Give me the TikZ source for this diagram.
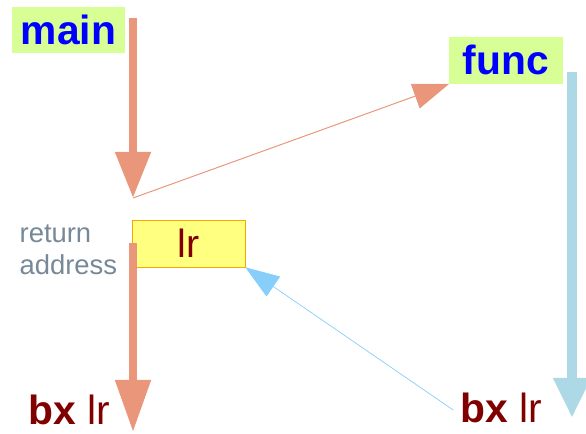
\documentclass[tikz,border=0pt]{standalone}
\usepackage{fontspec}
\setmainfont{Liberation Sans}
\usetikzlibrary{arrows.meta}
\definecolor{lblgreen}{RGB}{216,255,150}
\definecolor{regyellow}{RGB}{255,255,128}
\definecolor{regorange}{RGB}{255,165,0}
\definecolor{bxred}{RGB}{128,0,0}
\definecolor{slate}{RGB}{119,136,153}
\definecolor{salmon}{RGB}{233,150,122}
\definecolor{callblue}{RGB}{173,216,230}
\definecolor{retblue}{RGB}{135,206,250}

\begin{document}
\begin{tikzpicture}[
    big/.style={font=\fontsize{29}{32}\selectfont},
    fn/.style={big,fill=lblgreen,text=blue,font=\fontsize{29}{32}\selectfont\bfseries,
      minimum width=2.83cm,minimum height=1.16cm,inner sep=0pt},
    instr/.style={big,text=bxred,inner sep=0pt}]
  \useasboundingbox (0,0) rectangle (14.65,10.85);
  % functions
  \node[fn] (main) at (1.71,10.1) {main};
  \node[fn] (func) at (12.65,9.34) {func};
  % link register
  \node[big,draw=regorange,fill=regyellow,text=bxred,font=\fontsize{28}{32}\selectfont,
    minimum width=2.83cm,minimum height=1.17cm,inner sep=0pt] (lr) at (4.71,4.76) {lr};
  \node[text=slate,align=left,inner sep=0pt,font=\fontsize{19.5}{22.5}\selectfont]
    (ret) at (1.71,4.6) {return\\address};
  \node[instr] (bxl) at (1.73,0.6) {\textbf{bx} lr};
  \node[instr] (bxr) at (12.53,0.64) {\textbf{bx} lr};
  \coordinate (m0) at (3.325,10.4); \coordinate (m1) at (3.325,5.9);
  \coordinate (r0) at (3.325,4.78); \coordinate (r1) at (3.325,0.05);
  \coordinate (f0) at (14.3,9.05); \coordinate (f1) at (14.3,0.4);
  \coordinate (b0) at (11.33,0.6);
  % call
  \draw[salmon,line width=0.2cm,-{Triangle[length=1.15cm,width=0.85cm]}] (m0) -- (m1);
  \draw[salmon,line width=0.7pt,-{Triangle[length=0.9cm,width=0.65cm]}] (m1) -- (func.south west);
  \draw[callblue,line width=0.25cm,-{Triangle[length=1cm,width=0.875cm]}] (f0) -- (f1);
  % return
  \draw[retblue,line width=0.5pt,-{Triangle[length=0.85cm,width=0.6cm]}] (b0) -- (lr.south east);
  \draw[salmon,line width=0.2cm,-{Triangle[length=1.3cm,width=0.85cm]}] (r0) -- (r1);
\end{tikzpicture}
\end{document}
